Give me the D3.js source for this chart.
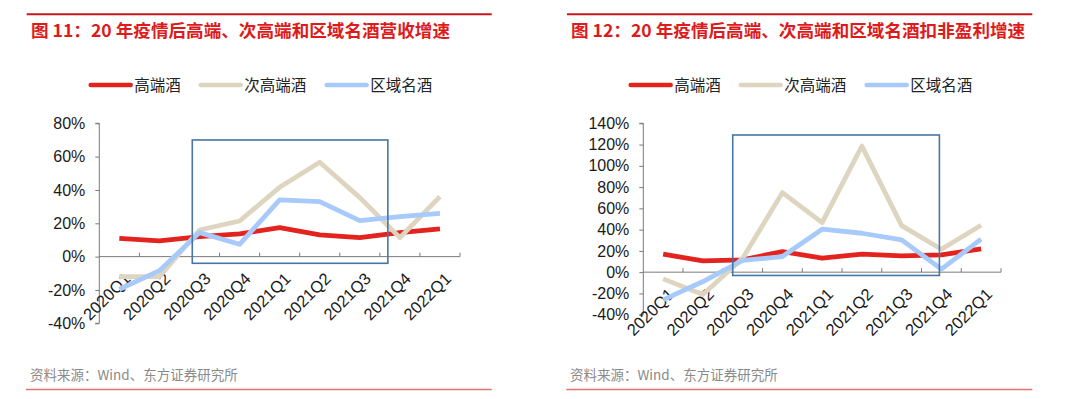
<!DOCTYPE html>
<html><head><meta charset="utf-8">
<script src="https://cdn.jsdelivr.net/npm/d3@7"></script>
<style>body{margin:0;background:#fff}svg{display:block}</style>
</head><body>
<svg id="c" width="1080" height="399"></svg>
<script>
const categories = ["2020Q1","2020Q2","2020Q3","2020Q4","2021Q1","2021Q2","2021Q3","2021Q4","2022Q1"];
const seriesNames = ["高端酒","次高端酒","区域名酒"];
// Chart 1: revenue growth (%)
const rev_high = [11, 9.4, 12, 13.6, 17.4, 13, 11.4, 14.4, 16.6];
const rev_sub  = [-12, -12, 16, 21.4, 41.6, 56.6, 35.4, 11.4, 36];
const rev_reg  = [-19.6, -8.4, 14.4, 7.4, 34, 33, 21.6, 24, 26];
const ticks1 = [-40,-20,0,20,40,60,80];
// Chart 2: deducted net profit growth (%)
const np_high = [16.9, 10.6, 11.6, 19.4, 13.1, 16.9, 15.3, 16.3, 21.9];
const np_sub  = [-6.3, -21, 13, 74.8, 46.6, 118.6, 43.8, 21.6, 44.1];
const np_reg  = [-26, -8.8, 11, 14.7, 40.4, 36.6, 30.4, 2.8, 31];
const ticks2 = [-40,-20,0,20,40,60,80,100,120,140];
const titles = ["图 11：20 年疫情后高端、次高端和区域名酒营收增速","图 12：20 年疫情后高端、次高端和区域名酒扣非盈利增速"];
const source = "资料来源：Wind、东方证券研究所";

const colors = ["#e3231e","#ddd5bf","#a7cafa"];
const svg = d3.select("#c");
const FONT = "'Liberation Sans', Arial, 'Noto Sans CJK SC', sans-serif";
const CJK = "'Noto Sans CJK SC', sans-serif";

function panel(ox, cfg){
  const g = svg.append("g").attr("transform",`translate(${ox},0)`);
  g.append("line").attr("x1",cfg.lineX0).attr("x2",cfg.lineX1).attr("y1",14.3).attr("y2",14.3)
    .attr("stroke","#c8161d").attr("stroke-width",2);
  g.append("text").attr("x",31).attr("y",37).attr("fill","#dd1b1b")
    .attr("font-family",CJK).attr("font-weight","bold").attr("font-size",17.6).text(cfg.title);
  // legend
  const lx = [90.7, 200.7, 326.7];
  seriesNames.forEach((n,i)=>{
    g.append("line").attr("x1",lx[i]).attr("x2",lx[i]+40).attr("y1",85).attr("y2",85)
      .attr("stroke",colors[i]).attr("stroke-width",4.5).attr("stroke-linecap","round");
    g.append("text").attr("x",lx[i]+43.5).attr("y",90.5).attr("font-family",CJK).attr("font-size",15.5)
      .attr("fill","#222").text(n);
  });
  const x = d3.scaleBand().domain(categories).range([cfg.x0, cfg.x1]);
  const y = d3.scaleLinear().domain([cfg.ticks[0], cfg.ticks[cfg.ticks.length-1]]).range([cfg.yb, cfg.yt]);
  // y axis
  const ya = g.append("g").attr("transform",`translate(${cfg.x0},0)`)
    .call(d3.axisLeft(y).tickValues(cfg.ticks).tickFormat(d=>d+"%").tickSize(4).tickPadding(10));
  ya.select(".domain").attr("stroke","#7a7a7a").attr("d",`M-4,${y(cfg.ticks[0])}H0V${y(cfg.ticks[cfg.ticks.length-1])}H-4`);
  ya.selectAll(".tick line").attr("stroke","#7a7a7a");
  ya.selectAll("text").attr("font-family",FONT).attr("font-size",16).attr("fill","#1a1a1a");
  // x axis at zero
  const xa = g.append("g").attr("transform",`translate(0,${y(0)})`)
    .call(d3.axisBottom(x).tickSize(0).tickFormat(""));
  xa.select(".domain").attr("stroke","#7a7a7a").attr("d",`M${cfg.x0},0H${cfg.x1}`);
  const bw = x.step();
  g.append("g").selectAll("line").data(categories).join("line")
    .attr("x1",d=>x(d)+bw).attr("x2",d=>x(d)+bw).attr("y1",y(0)-4).attr("y2",y(0))
    .attr("stroke","#7a7a7a");
  g.append("g").selectAll("text").data(categories).join("text")
    .attr("transform",d=>`translate(${x(d)+bw/2+4},${y(0)+15}) rotate(-45)`)
    .attr("text-anchor","end").attr("dy","0.7em")
    .attr("font-family",FONT).attr("font-size",16.5).attr("fill","#1a1a1a").text(d=>d);
  // lines
  const line = d3.line().x((d,i)=>x(categories[i])+bw/2).y(d=>y(d));
  cfg.series.forEach((s,i)=>{
    g.append("path").datum(s).attr("d",line).attr("fill","none").attr("stroke",colors[i])
      .attr("stroke-width",4.8).attr("stroke-linejoin","round");
  });
  // highlight box
  const bx0 = x(categories[cfg.box[0]]) + bw*cfg.box[1];
  const bx1 = x(categories[cfg.box[2]]) + bw*cfg.box[3];
  g.append("rect").attr("x",bx0).attr("y",y(cfg.box[4])).attr("width",bx1-bx0)
    .attr("height",y(cfg.box[5])-y(cfg.box[4])).attr("fill","none")
    .attr("stroke","#4775a6").attr("stroke-width",1.6);
  // footer
  g.append("text").attr("x",30).attr("y",380).attr("font-family",CJK).attr("font-size",13.5)
    .attr("fill","#8a8a8a").text(source);
  g.append("line").attr("x1",cfg.lineX0-0.7).attr("x2",cfg.lineX1).attr("y1",389.5).attr("y2",389.5)
    .attr("stroke","#e27474").attr("stroke-width",1.6);
}

panel(0, {title:titles[0], lineX0:26.7, lineX1:491.7, x0:99.3, x1:460, yt:123.3, yb:323.3,
  ticks:ticks1, series:[rev_high, rev_sub, rev_reg], box:[2,0.32,6,1.2,70,-4]});
panel(540, {title:titles[1], lineX0:27, lineX1:492.3, x0:103.3, x1:461, yt:123.3, yb:314.7,
  ticks:ticks2, series:[np_high, np_sub, np_reg], box:[2,0.25,7,0.45,129,-3.1]});
</script>
</body></html>
